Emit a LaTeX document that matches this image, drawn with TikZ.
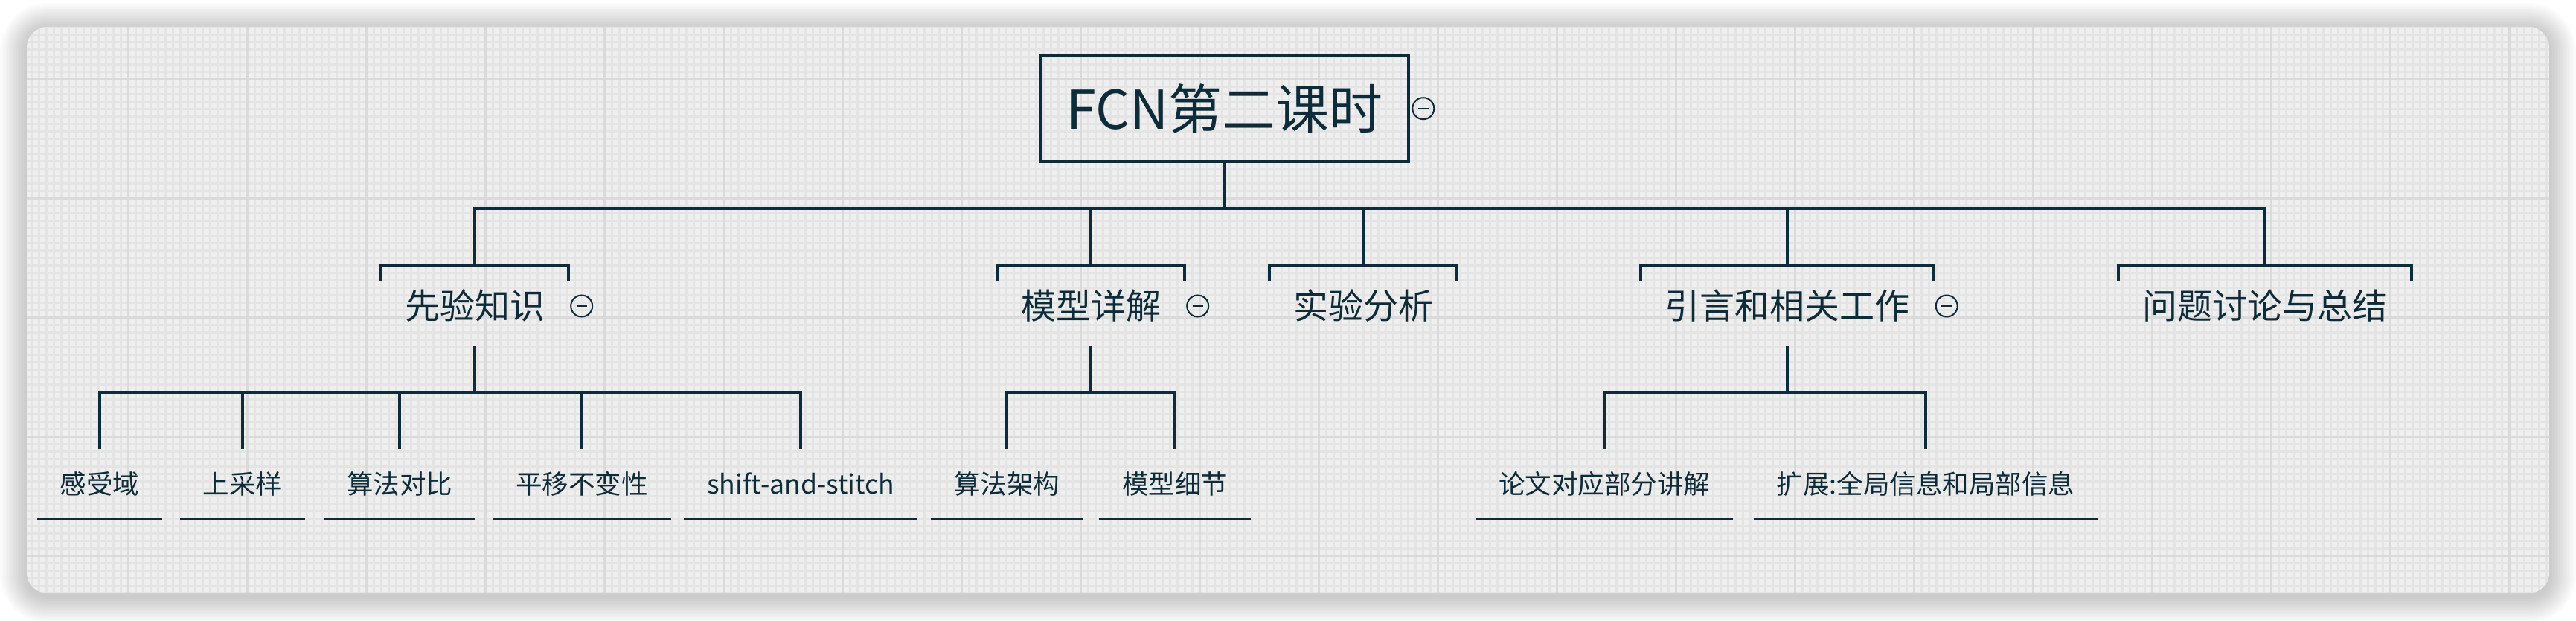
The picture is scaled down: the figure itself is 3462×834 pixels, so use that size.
\documentclass[tikz,border=0pt]{standalone}
\usepackage{fontspec}
\setmainfont{Noto Sans CJK SC}
\usetikzlibrary{positioning}
\definecolor{ink}{HTML}{0D2B38}
\definecolor{paper}{HTML}{EFEFEF}
\definecolor{minorline}{HTML}{E4E4E4}
\definecolor{majorline}{HTML}{DADADA}
\tikzset{
  topic/.style = {draw = ink, text = ink, line width = 4pt, inner sep = 0pt, minimum width = 494.6pt, minimum height = 142pt, text height = 54.7pt, text depth = 0pt, font = \fontsize{72}{80}\selectfont},
  subtopic/.style = {text = ink, inner xsep = 32pt, inner ysep = 0pt, minimum height = 108pt, text height = 35.7pt, text depth = 0pt, font = \fontsize{47}{56}\selectfont},
  leaf/.style = {text = ink, inner xsep = 31pt, inner ysep = 0pt, minimum height = 94pt, text height = 27pt, text depth = 0pt, font = \fontsize{35.5}{42}\selectfont},
  link/.style = {draw = ink, line width = 4pt},
  toggle/.style = {circle, draw = ink, line width = 2pt, minimum size = 29pt, inner sep = 0pt, outer sep = 0pt,
    path picture = {\draw[ink, line width = 2pt] ([xshift = -7pt]path picture bounding box.center) -- ([xshift = 7pt]path picture bounding box.center);}}
}
\begin{document}
\begin{tikzpicture}[x = 1pt, y = -1pt]
  \useasboundingbox (0, 0) rectangle (3462, 834);
  \foreach \s in {1, ..., 18}
    \fill[black, opacity = .01, rounded corners = 28 + 2*\s] ({36 - 2*\s}, {40 - 2*\s}) rectangle ({3426 + 2*\s}, {801 + 2*\s});
  \begin{scope}
    \clip[rounded corners = 28] (36, 36) rectangle (3426, 797);
    \fill[paper] (36, 36) rectangle (3426, 797);
    \draw[minorline, line width = 2.5pt, shift = {(2.7, 6.7)}] (0, 0) grid[step = 10pt] (3440, 800);
    \draw[majorline, line width = 2.5pt, shift = {(12.7, 106.7)}] (-160, -160) grid[step = 160pt] (3520, 800);
  \end{scope}

  \node[topic] (root) at (1646, 145.7) {FCN第二课时};
  \node[toggle, right = 3pt of root] (t0) {};

  \node[subtopic] (k1) at (638, 411) {先验知识};
  \node[subtopic] (k2) at (1466, 411) {模型详解};
  \node[subtopic] (k3) at (1832, 411) {实验分析};
  \node[subtopic] (k4) at (2402, 411) {引言和相关工作};
  \node[subtopic] (k5) at (3044, 411) {问题讨论与总结};
  \node[toggle, right = 3pt of k1] (t1) {};
  \node[toggle, right = 3pt of k2] (t2) {};
  \node[toggle, right = 3pt of k4] (t4) {};

  \foreach \x/\name/\txt in {134/l11/感受域, 326/l12/上采样, 537/l13/算法对比, 782/l14/平移不变性, 1076/l15/shift-and-stitch,
                             1353/l21/算法架构, 1579/l22/模型细节, 2156/l41/论文对应部分讲解, 2588/l42/扩展:全局信息和局部信息}
    \node[leaf] (\name) at (\x, 650) {\txt};

  \foreach \n in {k1, k2, k3, k4, k5} {
    \draw[link] (root.south) -- ++(0, 61) -| (\n.north);
    \draw[link] ([yshift = -20pt]\n.north west) -- (\n.north west) -- (\n.north east) -- ([yshift = -20pt]\n.north east);
  }
  \foreach \n in {l11, l12, l13, l14, l15}
    \draw[link] (k1.south) -- ++(0, 62) -| (\n.north);
  \foreach \n in {l21, l22}
    \draw[link] (k2.south) -- ++(0, 62) -| (\n.north);
  \foreach \n in {l41, l42}
    \draw[link] (k4.south) -- ++(0, 62) -| (\n.north);
  \foreach \n in {l11, l12, l13, l14, l15, l21, l22, l41, l42}
    \draw[link] (\n.south west) -- (\n.south east);
\end{tikzpicture}
\end{document}
